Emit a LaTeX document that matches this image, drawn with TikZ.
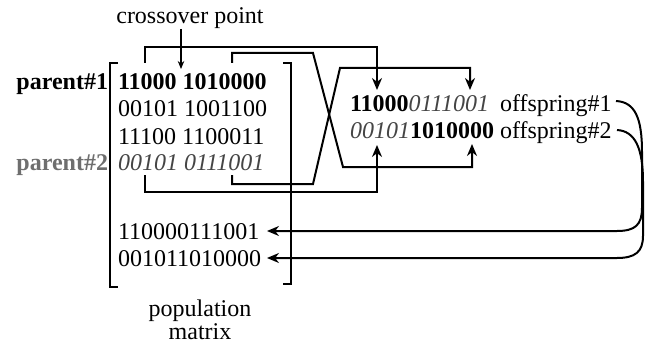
\documentclass[tikz,border=0pt]{standalone}
\usepackage{fontspec}
\setmainfont{Liberation Serif}
\usetikzlibrary{arrows.meta}
\definecolor{ital}{HTML}{454545}
\definecolor{pgray}{HTML}{6E6E6E}
\begin{document}
\begin{tikzpicture}[x=1pt,y=-1pt,line width=2pt,
  txt/.style={font=\fontsize{24}{28}\selectfont,inner sep=0pt,outer sep=0pt},
  arr/.style={-{Stealth[length=12pt,width=10pt]}},
  thinarr/.style={line width=1.1pt,-{Stealth[length=8pt,width=6.5pt]}}]
\useasboundingbox (0,0) rectangle (646,345);
% labels
\node[txt,anchor=base] (cp) at (190,24) {crossover point};
\node[txt,anchor=base east] (p1) at (108,90) {\textbf{parent\#1}};
\node[txt,anchor=base east,text=pgray] (p2) at (108,171) {\textbf{parent\#2}};
% matrix rows
\node[txt,anchor=base west] (r1) at (118,90) {\textbf{11000 1010000}};
\node[txt,anchor=base west] (r2) at (118,117) {00101 1001100};
\node[txt,anchor=base west] (r3) at (118,144) {11100 1100011};
\node[txt,anchor=base west,text=ital] (r4) at (118,171) {\textit{00101 0111001}};
\node[txt,anchor=base west] (r5) at (118,239) {110000111001};
\node[txt,anchor=base west] (r6) at (118,266) {001011010000};
\node[txt,anchor=base] (pop) at (200,316) {population};
\node[txt,anchor=base] (mat) at (200,339) {matrix};
% offspring
\node[txt,anchor=base west] (o1) at (350,112) {\textbf{11000}\textcolor{ital}{\textit{0111001}}};
\node[txt,anchor=base west] (o2) at (350,139) {\textcolor{ital}{\textit{00101}}\textbf{1010000}};
\node[txt,anchor=base west] (l1) at (500,112) {offspring\#1};
\node[txt,anchor=base west] (l2) at (500,139) {offspring\#2};
% brackets
\draw (118,63) -- (110,63) -- (110,287) -- (118,287);
\draw (283,63) -- (291,63) -- (291,284) -- (283,284);
% coordinates
\coordinate (cpt) at (181,69);
\coordinate (a1) at (145,63);
\coordinate (b1) at (232,63);
\coordinate (c1) at (232,175);
\coordinate (d1) at (145,175);
\coordinate (ta) at (377,90);
\coordinate (tc) at (470,90);
\coordinate (tb) at (472,144);
\coordinate (td) at (377,145);
\coordinate (s1) at (616,101);
\coordinate (s2) at (617,130);
\coordinate (t5) at (267,231);
\coordinate (t6) at (267,258);
% crossover arrow
\draw[thinarr] (181,29) -- (cpt);
% crossover connectors
\draw[arr] (a1) -- (145,47) -- (377,47) -- (ta);
\draw[arr] (b1) -- (232,53) -- (313,53) -- (343,167) -- (472,167) -- (tb);
\draw[arr] (c1) -- (232,184) -- (313,184) -- (340,68) -- (470,68) -- (tc);
\draw[arr] (d1) -- (145,192) -- (377,192) -- (td);
% back to population
\draw[arr] (s1) .. controls (635,102) and (642,118) .. (642,152) -- (642,208)
  .. controls (642,225) and (635,231) .. (617,231) -- (t5);
\draw[arr] (s2) .. controls (635,131) and (643,148) .. (643,182) -- (643,236)
  .. controls (643,252) and (635,258) .. (617,258) -- (t6);
\end{tikzpicture}
\end{document}
